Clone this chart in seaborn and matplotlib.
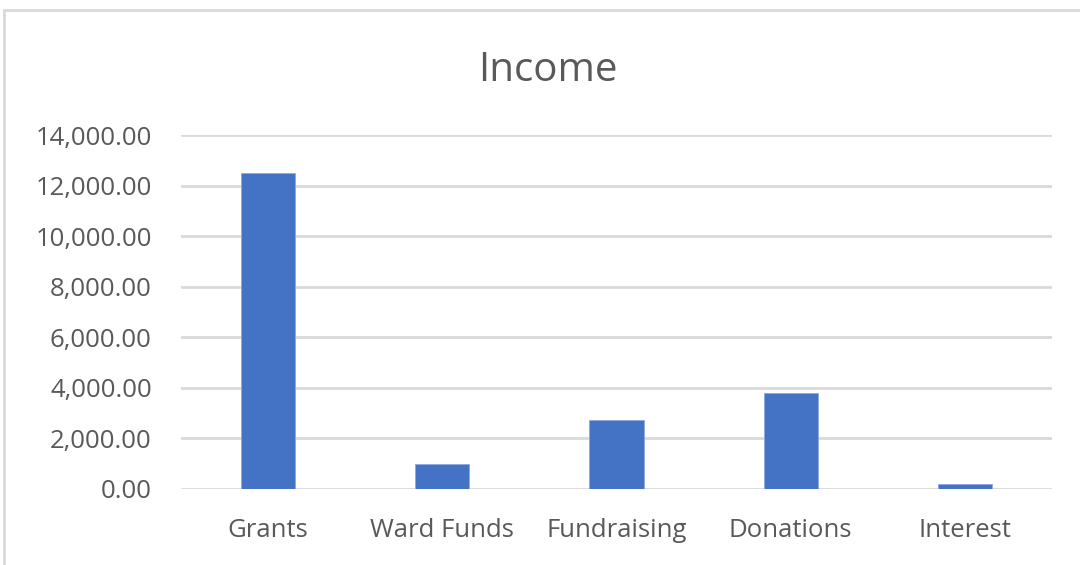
import matplotlib
matplotlib.use("Agg")
import matplotlib.pyplot as plt
import matplotlib.ticker as mticker
from matplotlib.patches import Rectangle
import seaborn as sns
import pandas as pd

categories = ["Grants", "Ward Funds", "Fundraising", "Donations", "Interest"]
values = [12510, 980, 2730, 3780, 180]
y_ticks = [0, 2000, 4000, 6000, 8000, 10000, 12000, 14000]

sns.set_theme(style="white")
plt.rcParams["font.family"] = ["Open Sans", "DejaVu Sans"]

df = pd.DataFrame({"category": categories, "value": values})

fig = plt.figure(figsize=(10.8, 5.65), dpi=100)
ax = fig.add_axes([181 / 1080, 1 - 489 / 565, (1052 - 181) / 1080, (489 - 135) / 565])

sns.barplot(data=df, x="category", y="value", color="#4472C4", width=0.31,
            saturation=1, ax=ax, zorder=3, edgecolor="#8faadc", linewidth=0.6)

ax.set_ylim(0, 14000)
ax.set_xlim(-0.5, len(categories) - 0.5)
ax.set_yticks(y_ticks)
ax.yaxis.set_major_formatter(mticker.FuncFormatter(lambda v, p: f"{v:,.2f}"))
ax.grid(axis="y", color="#d9d9d9", linewidth=2.0, zorder=0)
ax.grid(axis="x", visible=False)
for s in ax.spines.values():
    s.set_visible(False)
ax.tick_params(axis="both", length=0, labelsize=18.5, colors="#595959")
ax.tick_params(axis="y", pad=21)
ax.tick_params(axis="x", pad=21)
ax.set_xlabel("")
ax.set_ylabel("")

fig.text(548 / 1080, 1 - 71 / 565, "Income", ha="center", va="center",
         fontsize=29, color="#595959")

fig.patches.append(Rectangle((3.5 / 1080, -0.1), 1.2, 1 - 9.5 / 565 + 0.1,
                             transform=fig.transFigure, fill=False,
                             edgecolor="#d9d9d9", linewidth=2, zorder=10))

fig.savefig("out.png", dpi=100)
